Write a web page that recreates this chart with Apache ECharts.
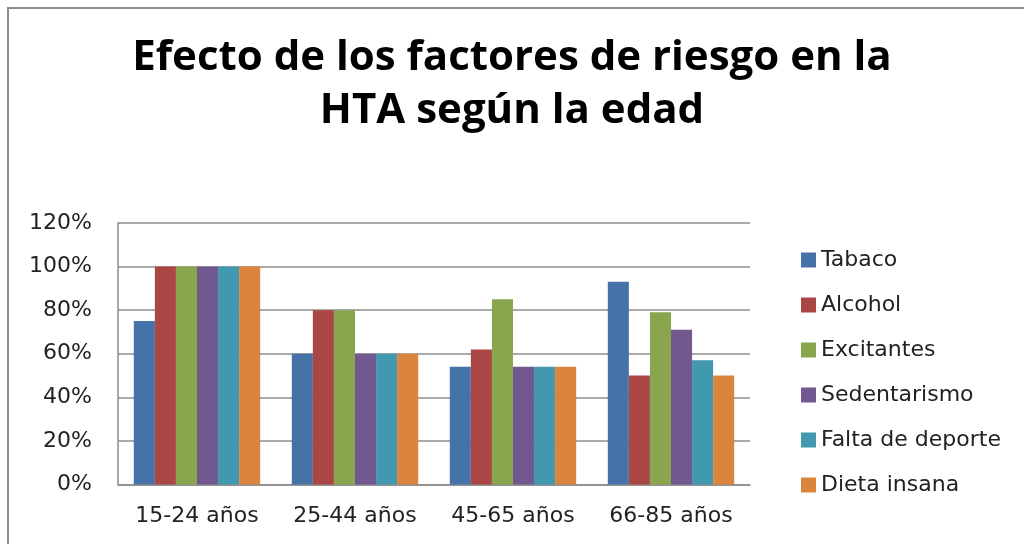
<!DOCTYPE html>
<html>
<head>
<meta charset="utf-8">
<title>Efecto de los factores de riesgo en la HTA según la edad</title>
<script src="https://cdn.jsdelivr.net/npm/echarts@6/dist/echarts.min.js"></script>
<style>
  html, body { margin: 0; padding: 0; background: #fff; }
  #chart { width: 1024px; height: 544px; }
</style>
</head>
<body>
<div id="chart"></div>
<script>
// categorías (grupos de edad)
var edades = ['15-24 años', '25-44 años', '45-65 años', '66-85 años'];

// valores en % por factor de riesgo
var tabaco       = [75, 60, 54, 93];
var alcohol      = [100, 80, 62, 50];
var excitantes   = [100, 80, 85, 79];
var sedentarismo = [100, 60, 54, 71];
var faltaDeporte = [100, 60, 54, 57];
var dietaInsana  = [100, 60, 54, 50];

var factores = ['Tabaco', 'Alcohol', 'Excitantes', 'Sedentarismo', 'Falta de deporte', 'Dieta insana'];
var valores = [tabaco, alcohol, excitantes, sedentarismo, faltaDeporte, dietaInsana];
var colores = ['#4572A7', '#AA4643', '#89A54E', '#71588F', '#4198AF', '#DB843D'];

var fuenteTitulo = '"Open Sans", "Noto Sans", sans-serif';
var fuente = '"DejaVu Sans", "Noto Sans", sans-serif';

var chart = echarts.init(document.getElementById('chart'));

var series = factores.map(function (nombre, i) {
    return {
        name: nombre,
        type: 'bar',
        data: valores[i],
        barGap: '0%',
        barCategoryGap: '20%',
        itemStyle: { color: colores[i] }
    };
});

chart.setOption({
    animation: false,
    color: colores,
    title: {
        text: 'Efecto de los factores de riesgo en la\nHTA según la edad',
        left: 'center',
        top: 27,
        textStyle: {
            fontFamily: fuenteTitulo,
            fontWeight: 'bold',
            fontSize: 42,
            lineHeight: 53,
            color: '#000'
        }
    },
    legend: {
        orient: 'vertical',
        left: 796,
        top: 243,
        itemWidth: 15,
        itemHeight: 15,
        itemGap: 21,
        icon: 'rect',
        textStyle: {
            fontFamily: fuente,
            fontSize: 22,
            lineHeight: 24,
            color: '#222'
        }
    },
    grid: {
        left: 118,
        top: 223,
        width: 632,
        height: 261.5
    },
    xAxis: {
        type: 'category',
        data: edades,
        axisLine: { lineStyle: { color: '#8c8c8c', width: 1.5 } },
        axisTick: { show: false },
        axisLabel: {
            interval: 0,
            fontFamily: fuente,
            fontSize: 22,
            color: '#222',
            margin: 21
        }
    },
    yAxis: {
        type: 'value',
        min: 0,
        max: 120,
        interval: 20,
        axisLine: { show: true, lineStyle: { color: '#8c8c8c', width: 1.5 } },
        axisTick: { show: false },
        splitLine: { lineStyle: { color: '#8c8c8c', width: 1.5 } },
        axisLabel: {
            fontFamily: fuente,
            fontSize: 22,
            color: '#222',
            margin: 26,
            formatter: '{value}%'
        }
    },
    graphic: [{
        type: 'rect',
        shape: { x: 8, y: 8, width: 1040, height: 560 },
        style: { fill: 'none', stroke: '#8c8c8c', lineWidth: 2 },
        silent: true
    }],
    series: series
});
</script>
</body>
</html>
